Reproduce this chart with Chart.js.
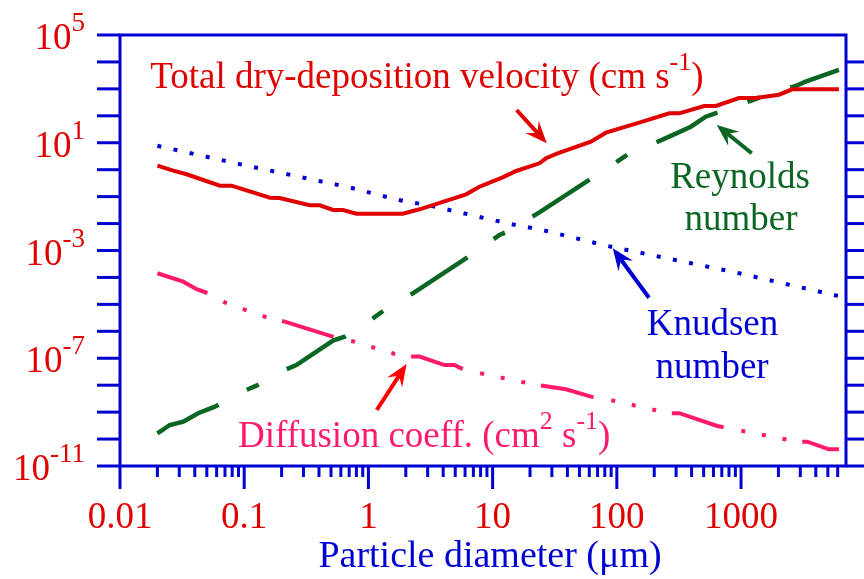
<!DOCTYPE html>
<html lang="en">
<head>
    <meta charset="UTF-8">
    <title>Particle properties vs diameter</title>
    <script src="https://cdn.jsdelivr.net/npm/chart.js@4"></script>
    <style>
        body { margin: 0; background: #fff; }
        #wrap { width: 864px; height: 579px; }
    </style>
</head>
<body>
    <div id="wrap"><canvas id="chart" width="864" height="579"></canvas></div>

    <script>
        // values (diameter in um)
        const dryDepD = [0.02, 0.0268, 0.0344, 0.0637, 0.079, 0.161, 0.193, 0.337, 0.406, 0.519, 0.624, 0.80, 1.89, 2.58, 6.12, 7.83, 12.05, 15.5, 23.8, 26.9, 33.3, 61.9, 81.7, 161, 264, 318, 505, 627, 964, 1312, 2018, 2582, 6138];
        const dryDepV = [1.41, 0.918, 0.675, 0.255, 0.255, 0.0914, 0.0889, 0.0476, 0.0476, 0.0319, 0.0319, 0.0233, 0.0233, 0.0339, 0.122, 0.234, 0.522, 0.895, 1.73, 2.65, 4.06, 10.9, 23.6, 60.5, 124, 124, 232, 232, 458, 458, 608, 964, 964];

        const knudsenD = [0.02, 0.0906, 0.72, 1.75, 3.16, 13.9, 25.1, 81.7, 895, 5164, 6138];
        const knudsenV = [7.7, 1.63, 0.215, 0.075, 0.0461, 0.00964, 0.00578, 0.00151, 1.55e-4, 2.43e-5, 2.03e-5];

        const reynoldsD = [0.02, 0.0252, 0.0323, 0.0426, 0.0581, 0.101, 0.1256, 0.212, 0.263, 0.519, 0.644, 1.087, 1.349, 2.28, 6.71, 11.35, 14.1, 23.8, 72.3, 124, 151, 264, 394, 520, 776, 1352, 1626, 2754, 3311, 6138];
        const reynoldsV = [1.64e-10, 3.33e-10, 4.4e-10, 9.1e-10, 1.6e-9, 6.3e-9, 9.6e-9, 3.67e-8, 5.6e-8, 4.5e-7, 6.3e-7, 3.05e-6, 6.2e-6, 2.58e-5, 6.8e-4, 3.77e-3, 5.8e-3, 0.0262, 0.735, 3.83, 5.38, 16.8, 39.4, 92.7, 175, 447, 630, 1279, 1849, 5023];

        const diffD = [0.02, 0.0323, 0.0414, 0.0513, 0.0721, 0.151, 0.212, 0.535, 0.774, 1.63, 2.28, 2.58, 4.10, 4.93, 5.93, 17.3, 25.3, 39.0, 61.9, 88.5, 264, 318, 644, 2838, 3412, 5093, 6138];
        const diffV = [1.43e-4, 6.97e-5, 3.64e-5, 2.58e-5, 1.1e-5, 3.32e-6, 2.28e-6, 6.0e-7, 4.12e-7, 1.44e-7, 1.15e-7, 1.15e-7, 5.6e-8, 5.6e-8, 3.67e-8, 1.31e-8, 9.6e-9, 7.05e-9, 3.75e-9, 2.82e-9, 9.1e-10, 9.1e-10, 3.06e-10, 8.0e-11, 8.0e-11, 4.18e-11, 4.18e-11];

        const xTickVals = [0.01, 0.1, 1, 10, 100, 1000];
        const xTickLabels = ['0.01', '0.1', '1', '10', '100', '1000'];
        const yLabelExps = [5, 1, -3, -7, -11];

        const RED = '#e00000';
        const BLUE = '#0000d2';
        const GREEN = '#0b6623';
        const PINK = '#ff1a6c';
        const FONT = "'Liberation Serif', 'Times New Roman', serif";

        function pts(xs, ys) {
            return xs.map((x, i) => ({ x: x, y: ys[i] }));
        }

        // rich text with superscripts: parts = [[text, isSup], ...]
        function richWidth(ctx, parts, size, supSize) {
            let w = 0;
            parts.forEach(p => {
                ctx.font = (p[1] ? supSize : size) + 'px ' + FONT;
                w += ctx.measureText(p[0]).width;
            });
            return w;
        }
        function drawRich(ctx, parts, x, y, align, color, size, supSize) {
            size = size || 37;
            supSize = supSize || 26;
            const w = richWidth(ctx, parts, size, supSize);
            let cx = align === 'center' ? x - w / 2 : align === 'right' ? x - w : x;
            ctx.fillStyle = color;
            ctx.textAlign = 'left';
            ctx.textBaseline = 'alphabetic';
            parts.forEach(p => {
                ctx.font = (p[1] ? supSize : size) + 'px ' + FONT;
                ctx.fillText(p[0], cx, p[1] ? y - 18 : y);
                cx += ctx.measureText(p[0]).width;
            });
        }
        function arrow(ctx, x1, y1, x2, y2, color) {
            const ang = Math.atan2(y2 - y1, x2 - x1);
            const len = 22, half = 9;
            const bx = x2 - len * Math.cos(ang), by = y2 - len * Math.sin(ang);
            ctx.strokeStyle = color;
            ctx.fillStyle = color;
            ctx.lineWidth = 4;
            ctx.beginPath();
            ctx.moveTo(x1, y1);
            ctx.lineTo(x2 - 12 * Math.cos(ang), y2 - 12 * Math.sin(ang));
            ctx.stroke();
            ctx.beginPath();
            ctx.moveTo(x2, y2);
            ctx.lineTo(bx + half * Math.sin(ang), by - half * Math.cos(ang));
            ctx.lineTo(x2 - 14 * Math.cos(ang), y2 - 14 * Math.sin(ang));
            ctx.lineTo(bx - half * Math.sin(ang), by + half * Math.cos(ang));
            ctx.closePath();
            ctx.fill();
        }

        // frame, ticks, tick labels, titles and callouts
        const decor = {
            id: 'decor',
            afterDraw(chart) {
                const { ctx, chartArea: a, scales: { x, y } } = chart;
                const X = v => x.getPixelForValue(v);
                const Y = v => y.getPixelForValue(v);
                ctx.save();

                ctx.strokeStyle = BLUE;
                ctx.lineWidth = 3;
                ctx.lineCap = 'butt';
                const seg = (x1, y1, x2, y2) => { ctx.beginPath(); ctx.moveTo(x1, y1); ctx.lineTo(x2, y2); ctx.stroke(); };

                // y ticks every decade, left and right
                for (let e = -11; e <= 5; e++) {
                    const py = Y(Math.pow(10, e));
                    seg(a.left - 23, py, a.left, py);
                    if (e < 5) seg(a.right, py, a.right + 20, py);
                }
                // x ticks
                for (let e = -2; e <= 3; e++) {
                    const d = Math.pow(10, e);
                    seg(X(d), a.bottom, X(d), a.bottom + 23);
                    for (let k = 2; k <= 9; k++) {
                        if (k * d > 6500) break;
                        seg(X(k * d), a.bottom, X(k * d), a.bottom + 11);
                    }
                }
                ctx.strokeRect(a.left, a.top, a.right - a.left, a.bottom - a.top);

                // tick labels
                ctx.fillStyle = RED;
                ctx.font = '37px ' + FONT;
                ctx.textAlign = 'center';
                ctx.textBaseline = 'alphabetic';
                xTickVals.forEach((v, i) => ctx.fillText(xTickLabels[i], X(v), a.bottom + 62));
                yLabelExps.forEach(e => {
                    drawRich(ctx, [['10', false], [String(e), true]], 85, Y(Math.pow(10, e)) + 14, 'right', RED, 37, 27);
                });

                // axis title
                ctx.fillStyle = BLUE;
                ctx.font = '38px ' + FONT;
                ctx.textAlign = 'center';
                ctx.fillText('Particle diameter (\u03bcm)', 490, 567);

                // callouts
                drawRich(ctx, [['Total dry-deposition velocity (cm s', false], ['-1', true], [')', false]], X(0.0175), Y(1050), 'left', RED);
                arrow(ctx, X(15.6), Y(164), X(27.3), Y(9.5), RED);

                drawRich(ctx, [['Reynolds', false]], X(982), Y(0.204), 'center', GREEN);
                drawRich(ctx, [['number', false]], X(1000), Y(0.00578), 'center', GREEN);
                arrow(ctx, X(1219), Y(4.06), X(637), Y(45.6), GREEN);

                drawRich(ctx, [['Knudsen', false]], X(589), Y(7.3e-7), 'center', BLUE);
                drawRich(ctx, [['number', false]], X(585), Y(1.81e-8), 'center', BLUE);
                arrow(ctx, X(181.5), Y(1.77e-5), X(92.7), Y(1.21e-3), BLUE);

                drawRich(ctx, [['Diffusion coeff. (cm', false], ['2', true], [' s', false], ['-1', true], [')', false]], X(0.0891), Y(5.2e-11), 'left', PINK);
                arrow(ctx, X(1.167), Y(1.2e-9), X(2.03), Y(6.1e-8), '#ff0000');

                ctx.restore();
            }
        };

        const ctx = document.getElementById('chart').getContext('2d');
        new Chart(ctx, {
            type: 'line',
            data: {
                datasets: [
                    {
                        label: 'Total dry-deposition velocity',
                        data: pts(dryDepD, dryDepV),
                        borderColor: RED,
                        borderWidth: 4
                    },
                    {
                        label: 'Knudsen number',
                        data: pts(knudsenD, knudsenV),
                        borderColor: BLUE,
                        borderWidth: 4,
                        borderDash: [4, 12.5],
                        borderCapStyle: 'butt'
                    },
                    {
                        label: 'Reynolds number',
                        data: pts(reynoldsD, reynoldsV),
                        borderColor: GREEN,
                        borderWidth: 4.5,
                        borderDash: [68, 32, 13, 32],
                        borderCapStyle: 'butt'
                    },
                    {
                        label: 'Diffusion coefficient',
                        data: pts(diffD, diffV),
                        borderColor: PINK,
                        borderWidth: 4,
                        borderDash: [54, 18, 4, 17, 4, 17, 4, 16],
                        borderCapStyle: 'butt'
                    }
                ]
            },
            options: {
                responsive: false,
                animation: false,
                devicePixelRatio: 1,
                layout: { padding: { left: 120, top: 35, right: 18, bottom: 113 } },
                elements: { point: { radius: 0 }, line: { tension: 0 } },
                plugins: { legend: { display: false }, tooltip: { enabled: false } },
                scales: {
                    x: { type: 'logarithmic', min: 0.01, max: 7000, bounds: 'data', display: false },
                    y: { type: 'logarithmic', min: 1e-11, max: 1e5, bounds: 'data', display: false }
                }
            },
            plugins: [decor]
        });
    </script>
</body>
</html>
